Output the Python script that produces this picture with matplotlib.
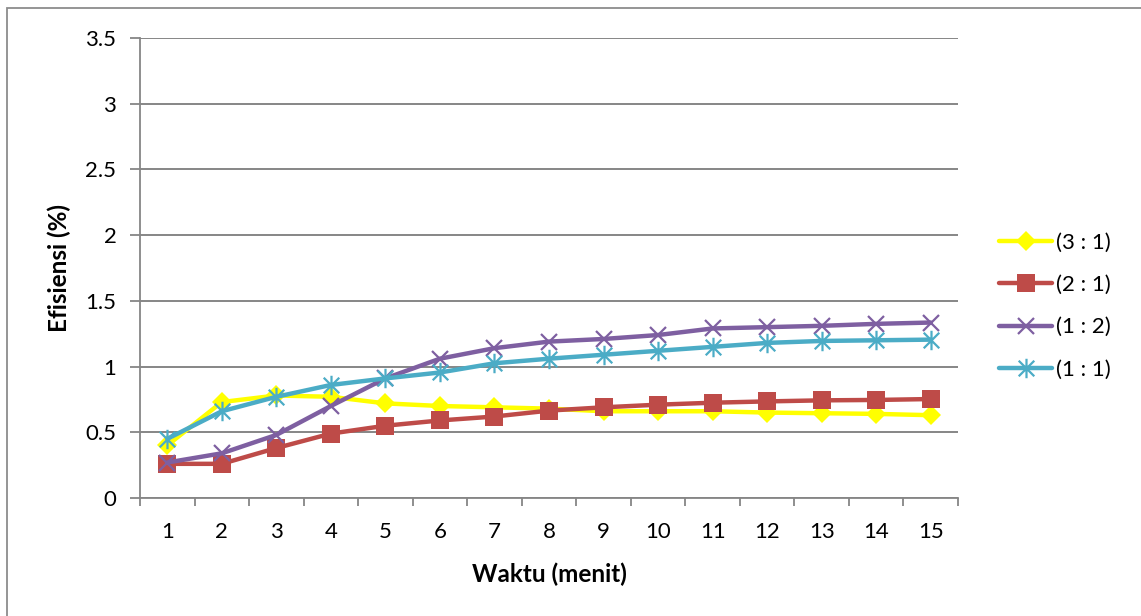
import matplotlib
matplotlib.use("Agg")
import matplotlib.pyplot as plt
from matplotlib.path import Path
from matplotlib.patches import Rectangle

plt.rcParams['font.family'] = ['Lato', 'DejaVu Sans']

# Time in minutes and efficiency values for each ratio
waktu = list(range(1, 16))
series_labels = ["(3 : 1)", "(2 : 1)", "(1 : 2)", "(1 : 1)"]
rasio_3_1 = [0.40, 0.73, 0.78, 0.77, 0.72, 0.70, 0.69, 0.68, 0.66, 0.66, 0.66, 0.65, 0.645, 0.64, 0.63]
rasio_2_1 = [0.26, 0.26, 0.38, 0.49, 0.55, 0.59, 0.62, 0.665, 0.69, 0.71, 0.725, 0.735, 0.743, 0.746, 0.753]
rasio_1_2 = [0.27, 0.34, 0.48, 0.70, 0.91, 1.06, 1.14, 1.19, 1.21, 1.24, 1.29, 1.30, 1.31, 1.325, 1.335]
rasio_1_1 = [0.45, 0.66, 0.77, 0.86, 0.91, 0.955, 1.025, 1.06, 1.09, 1.12, 1.15, 1.18, 1.195, 1.20, 1.205]
y_ticks = [0, 0.5, 1, 1.5, 2, 2.5, 3, 3.5]
y_tick_labels = ["0", "0.5", "1", "1.5", "2", "2.5", "3", "3.5"]

# Star marker: a cross of diagonals plus a vertical stroke
star_path = Path(
    [(-1, -1), (1, 1), (-1, 1), (1, -1), (0, -1.25), (0, 1.25)],
    [Path.MOVETO, Path.LINETO, Path.MOVETO, Path.LINETO, Path.MOVETO, Path.LINETO],
)

styles = [
    dict(color="#FFFF00", marker="D", ms=10, mec="#FFFF00", mfc="#FFFF00", mew=0),
    dict(color="#BE4B48", marker="s", ms=13, mec="#BE4B48", mfc="#BE4B48", mew=0),
    dict(color="#7E5FA1", marker="x", ms=12, mec="#7E5FA1", mew=1.6),
    dict(color="#4BACC6", marker=star_path, ms=14, mec="#4BACC6", mew=1.6),
]
values = [rasio_3_1, rasio_2_1, rasio_1_2, rasio_1_1]

W, H = 1141, 616
fig = plt.figure(figsize=(W / 100, H / 100), dpi=100)
fig.patch.set_facecolor("white")

# Chart-area frame
fig.patches.append(Rectangle((7 / W, -0.05), 1.2, 1 - 8 / H + 0.05, transform=fig.transFigure,
                             fill=False, edgecolor="#8C8C8C", linewidth=1.3))

ax = fig.add_axes([140 / W, 1 - 498 / H, 818 / W, 460 / H])

for vals, lab, st in zip(values, series_labels, styles):
    ax.plot(waktu, vals, label=lab, linewidth=3.2, solid_capstyle="round", **st)

ax.set_xlim(0.5, 15.5)
ax.set_ylim(0, 3.5)
ax.set_yticks(y_ticks)
ax.set_yticklabels(y_tick_labels)
ax.yaxis.grid(True, color="#868686", linewidth=1.4)
ax.set_axisbelow(True)

# Category ticks sit between categories; labels at category centres
ax.set_xticks([k + 0.5 for k in range(0, 16)])
ax.set_xticklabels([])
ax.set_xticks(waktu, minor=True)
ax.set_xticklabels([str(w) for w in waktu], minor=True)
ax.tick_params(axis="x", which="major", length=6, width=1.3, color="#868686", direction="out")
ax.tick_params(axis="x", which="minor", length=0, pad=17, labelsize=16)
ax.tick_params(axis="y", length=7, width=1.3, color="#868686", direction="out", pad=10, labelsize=16)

for side in ("top", "right"):
    ax.spines[side].set_visible(False)
for side in ("left", "bottom"):
    ax.spines[side].set_color("#868686")
    ax.spines[side].set_linewidth(1.3)

ax.set_xlabel("Waktu (menit)", fontsize=17.5, fontweight="bold", labelpad=15)
ax.set_ylabel("Efisiensi (%)", fontsize=17.5, fontweight="bold")
ax.yaxis.set_label_coords(-0.084, 0.5)

leg = ax.legend(loc="upper left", bbox_to_anchor=(990 / W, 1 - 224 / H), bbox_transform=fig.transFigure,
                frameon=False, fontsize=16, handlelength=2.4, handletextpad=0.15,
                labelspacing=1.0, borderaxespad=0)

fig.savefig("out.png", dpi=100, facecolor="white")
